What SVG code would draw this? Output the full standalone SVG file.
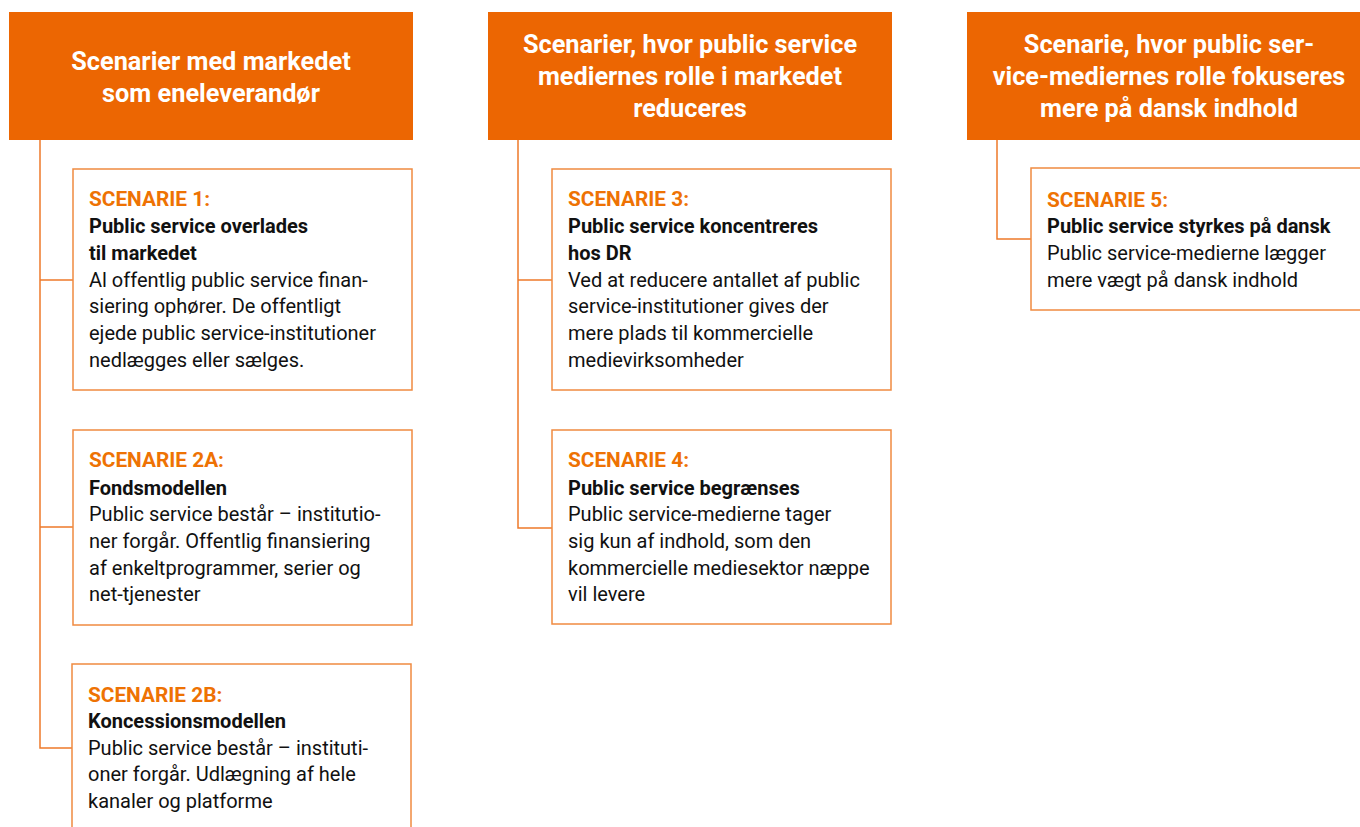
<svg xmlns="http://www.w3.org/2000/svg" width="1360" height="827" viewBox="0 0 1360 827">
<style>
.hdr{fill:#EC6602}
.htx{font-family:Roboto,"Liberation Sans",sans-serif;font-weight:700;font-size:25.3px;fill:#fff;text-anchor:middle}
.box{fill:#fff;stroke:#F08A40;stroke-width:1.5}
.lbl{font-family:Roboto,"Liberation Sans",sans-serif;font-weight:700;font-size:20.8px;fill:#EE7203}
.ttl{font-family:Roboto,"Liberation Sans",sans-serif;font-weight:700;font-size:20px;fill:#111}
.bdy{font-family:Roboto,"Liberation Sans",sans-serif;font-weight:400;font-size:20px;fill:#111}
.con{fill:none;stroke:#EE7A2A;stroke-width:1.5}
</style>
<rect width="1360" height="827" fill="#fff"/>
<g id="connectors">
<path class="con" d="M40 140 V748 H72 M40 280 H73 M40 527 H73"/>
<path class="con" d="M518 140 V528 H552 M518 280 H552"/>
<path class="con" d="M997 140 V239 H1031"/>
</g>
<g id="header1">
<rect class="hdr" x="9" y="12" width="404" height="128"/>
<text class="htx" x="211" y="70">Scenarier med markedet</text>
<text class="htx" x="211" y="102">som eneleverandør</text>
</g>
<g id="header2">
<rect class="hdr" x="488" y="12" width="404" height="128"/>
<text class="htx" x="690" y="53">Scenarier, hvor public service</text>
<text class="htx" x="690" y="85">mediernes rolle i markedet</text>
<text class="htx" x="690" y="117">reduceres</text>
</g>
<g id="header3">
<rect class="hdr" x="967" y="12" width="404" height="128"/>
<text class="htx" x="1169" y="53">Scenarie, hvor public ser-</text>
<text class="htx" x="1169" y="85">vice-mediernes rolle fokuseres</text>
<text class="htx" x="1169" y="117">mere på dansk indhold</text>
</g>
<g id="scenarie1">
<rect class="box" x="73" y="169" width="339" height="221"/>
<text class="lbl" x="89" y="206">SCENARIE 1:</text>
<text class="ttl" x="89" y="233">Public service overlades</text>
<text class="ttl" x="89" y="260">til markedet</text>
<text class="bdy" x="89" y="287">Al offentlig public service finan-</text>
<text class="bdy" x="89" y="313">siering ophører. De offentligt</text>
<text class="bdy" x="89" y="340">ejede public service-institutioner</text>
<text class="bdy" x="89" y="367">nedlægges eller sælges.</text>
</g>
<g id="scenarie2a">
<rect class="box" x="73" y="430" width="339" height="195"/>
<text class="lbl" x="89" y="467">SCENARIE 2A:</text>
<text class="ttl" x="89" y="495">Fondsmodellen</text>
<text class="bdy" x="89" y="521">Public service består – institutio-</text>
<text class="bdy" x="89" y="548">ner forgår. Offentlig finansiering</text>
<text class="bdy" x="89" y="575">af enkeltprogrammer, serier og</text>
<text class="bdy" x="89" y="601">net-tjenester</text>
</g>
<g id="scenarie2b">
<rect class="box" x="72" y="664" width="339" height="180"/>
<text class="lbl" x="88" y="702">SCENARIE 2B:</text>
<text class="ttl" x="88" y="728">Koncessionsmodellen</text>
<text class="bdy" x="88" y="755">Public service består – instituti-</text>
<text class="bdy" x="88" y="781">oner forgår. Udlægning af hele</text>
<text class="bdy" x="88" y="808">kanaler og platforme</text>
</g>
<g id="scenarie3">
<rect class="box" x="552" y="169" width="339" height="221"/>
<text class="lbl" x="568" y="206">SCENARIE 3:</text>
<text class="ttl" x="568" y="233">Public service koncentreres</text>
<text class="ttl" x="568" y="260">hos DR</text>
<text class="bdy" x="568" y="287">Ved at reducere antallet af public</text>
<text class="bdy" x="568" y="313">service-institutioner gives der</text>
<text class="bdy" x="568" y="340">mere plads til kommercielle</text>
<text class="bdy" x="568" y="367">medievirksomheder</text>
</g>
<g id="scenarie4">
<rect class="box" x="552" y="430" width="339" height="194"/>
<text class="lbl" x="568" y="467">SCENARIE 4:</text>
<text class="ttl" x="568" y="495">Public service begrænses</text>
<text class="bdy" x="568" y="521">Public service-medierne tager</text>
<text class="bdy" x="568" y="548">sig kun af indhold, som den</text>
<text class="bdy" x="568" y="575">kommercielle mediesektor næppe</text>
<text class="bdy" x="568" y="601">vil levere</text>
</g>
<g id="scenarie5">
<rect class="box" x="1031" y="168" width="340" height="142"/>
<text class="lbl" x="1047" y="207">SCENARIE 5:</text>
<text class="ttl" x="1047" y="233">Public service styrkes på dansk</text>
<text class="bdy" x="1047" y="260">Public service-medierne lægger</text>
<text class="bdy" x="1047" y="287">mere vægt på dansk indhold</text>
</g>
</svg>
